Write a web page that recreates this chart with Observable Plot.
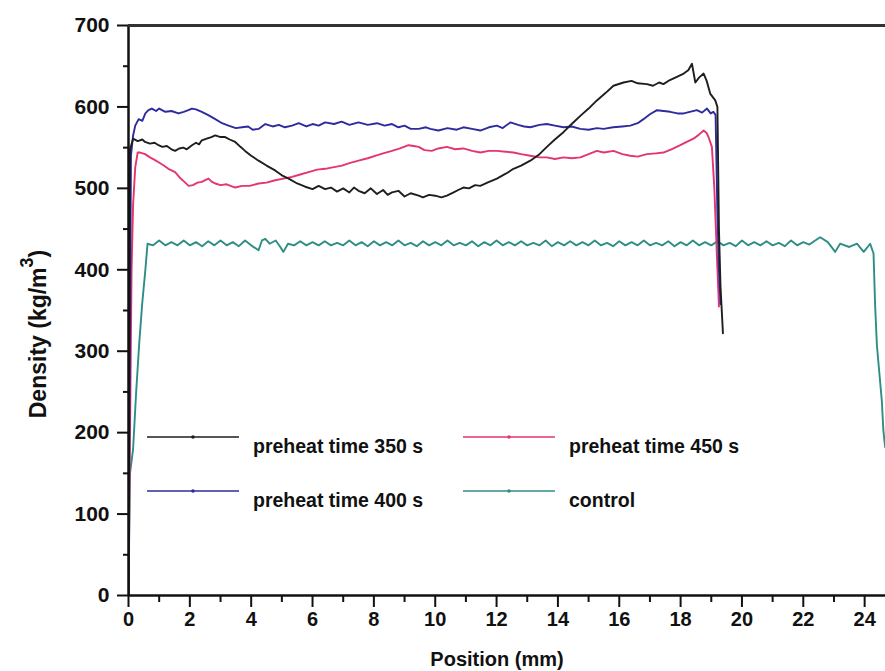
<!DOCTYPE html>
<html><head><meta charset="utf-8">
<script src="https://cdn.jsdelivr.net/npm/d3@7"></script>
<script src="https://cdn.jsdelivr.net/npm/@observablehq/plot@0.6"></script>
<style>body{margin:0;background:#fff;} svg{display:block;}</style>
</head><body><div id="chart"></div>
<script>
// ---- data (position in mm, density in kg/m3) ----
const x350 = [0,0.05,0.15,0.3,0.45,0.54,0.7,0.85,0.98,1.1,1.25,1.4,1.52,1.65,1.79,1.9,2.07,2.2,2.3,2.39,2.55,2.7,2.83,3.0,3.15,3.3,3.48,3.65,3.8,4.0,4.24,4.5,4.78,5.0,5.22,5.5,5.76,6.0,6.2,6.41,6.6,6.8,7.0,7.2,7.35,7.5,7.7,7.9,8.1,8.3,8.45,8.59,8.8,9.0,9.2,9.46,9.6,9.8,10.0,10.2,10.38,10.6,10.75,10.92,11.1,11.3,11.47,11.7,12.01,12.3,12.55,12.8,13.1,13.4,13.64,13.9,14.18,14.45,14.73,15.0,15.27,15.55,15.81,16.14,16.4,16.6,16.9,17.1,17.3,17.44,17.65,17.88,18.1,18.25,18.37,18.48,18.6,18.75,18.85,18.97,19.05,19.13,19.2,19.25,19.3,19.38];
const d350 = [0,548,561,558,560,557,555,556,553,551,552,548,546,549,550,548,553,556,554,559,561,563,565,563,563,560,557,551,546,540,534,528,522,516,512,506,502,499,503,499,501,496,500,495,501,497,494,500,493,498,492,495,497,490,494,491,489,492,491,489,491,495,498,501,500,504,503,507,512,518,524,528,534,542,551,560,569,579,589,598,608,617,626,630,632,629,628,626,630,628,633,637,641,645,653,630,636,641,632,616,612,608,600,450,380,322];

const x400 = [0,0.08,0.15,0.22,0.33,0.45,0.55,0.65,0.76,0.9,1.0,1.2,1.4,1.63,1.8,1.95,2.07,2.2,2.39,2.6,2.83,3.05,3.26,3.5,3.7,3.9,4.05,4.24,4.46,4.7,4.9,5.1,5.33,5.55,5.8,6.0,6.2,6.41,6.7,6.95,7.2,7.5,7.8,8.1,8.35,8.59,8.8,9.0,9.2,9.46,9.7,9.84,10.1,10.4,10.7,10.92,11.2,11.47,11.75,12.01,12.2,12.45,12.7,12.9,13.1,13.4,13.64,13.9,14.18,14.45,14.73,15.0,15.27,15.49,15.8,16.1,16.36,16.6,16.79,17.0,17.23,17.45,17.66,17.9,18.1,18.3,18.53,18.7,18.86,18.98,19.07,19.14,19.2,19.25,19.3];
const d400 = [0,540,565,577,585,583,592,596,598,595,598,594,595,592,594,596,598,597,594,590,585,580,577,574,575,576,572,573,579,576,578,575,577,580,576,579,577,581,579,582,578,581,578,580,577,579,575,577,573,573,575,573,571,574,572,575,573,571,575,577,574,581,578,576,575,578,579,577,575,576,573,572,574,573,575,576,577,580,585,591,596,595,594,592,592,594,596,593,598,592,594,590,470,400,358];

const x450 = [0,0.1,0.15,0.22,0.3,0.38,0.54,0.7,0.85,0.98,1.15,1.3,1.52,1.7,1.85,1.96,2.1,2.25,2.39,2.5,2.61,2.72,2.83,3.0,3.2,3.48,3.7,3.95,4.24,4.5,4.78,5.05,5.33,5.6,5.87,6.15,6.41,6.7,6.96,7.2,7.5,7.8,8.04,8.3,8.59,8.85,9.13,9.3,9.46,9.65,9.89,10.1,10.38,10.65,10.92,11.2,11.47,11.75,12.01,12.3,12.55,12.8,13.1,13.4,13.64,13.9,14.18,14.45,14.73,15.0,15.27,15.5,15.81,16.1,16.36,16.6,16.9,17.2,17.44,17.7,17.99,18.2,18.42,18.6,18.75,18.85,18.91,19.02,19.1,19.18,19.25];
const d450 = [0,400,480,526,544,544,542,538,535,532,528,524,520,512,507,503,504,507,508,510,512,508,506,504,505,501,503,503,506,507,510,512,514,517,520,523,524,526,528,531,534,537,540,543,546,549,553,552,551,547,546,549,551,548,549,546,544,546,546,545,544,542,540,538,538,536,538,537,538,542,546,544,546,542,540,539,542,543,544,548,553,557,561,566,571,568,563,551,500,420,355];

const xCtl = [0,0.05,0.15,0.25,0.35,0.45,0.55,0.62,0.8,1.0,1.2,1.4,1.6,1.8,2.0,2.2,2.4,2.6,2.8,3.0,3.2,3.4,3.6,3.8,4.0,4.24,4.35,4.46,4.6,4.8,4.95,5.05,5.2,5.4,5.6,5.8,6.0,6.2,6.4,6.6,6.8,7.0,7.2,7.4,7.6,7.8,8.0,8.2,8.4,8.6,8.8,9.0,9.2,9.4,9.6,9.8,10.0,10.2,10.4,10.6,10.8,11.0,11.2,11.4,11.6,11.8,12.0,12.2,12.4,12.6,12.8,13.0,13.2,13.4,13.6,13.8,14.0,14.2,14.4,14.6,14.8,15.0,15.2,15.4,15.6,15.8,16.0,16.2,16.4,16.6,16.8,17.0,17.2,17.4,17.6,17.8,18.0,18.2,18.4,18.6,18.8,19.0,19.2,19.4,19.6,19.8,20.0,20.2,20.4,20.6,20.8,21.0,21.2,21.4,21.6,21.8,22.0,22.2,22.35,22.55,22.8,23.04,23.2,23.5,23.75,23.97,24.18,24.29,24.34,24.4,24.56,24.61,24.67];
const dCtl = [5,150,180,250,310,360,400,432,430,436,430,434,430,436,430,434,429,435,430,436,430,434,429,436,430,424,436,438,432,436,428,422,432,430,435,430,434,430,435,430,433,430,436,430,434,429,435,430,434,430,436,430,433,429,435,430,434,430,436,430,433,430,435,429,434,430,436,430,434,430,435,430,433,430,436,429,434,430,435,430,434,430,436,430,433,429,435,430,434,430,436,430,433,430,435,429,434,430,436,430,434,430,435,430,433,429,436,430,434,430,435,430,433,429,436,430,434,431,435,440,434,422,432,428,432,422,432,420,358,307,239,203,182];

const seriesNames = ["preheat time 350 s", "preheat time 400 s", "preheat time 450 s", "control"];
const seriesColors = ["#1e1e1e", "#2c2c9e", "#e3356f", "#2e8e84"];
const xMajorTicks = [0,2,4,6,8,10,12,14,16,18,20,22,24];
const xMinorTicks = [1,3,5,7,9,11,13,15,17,19,21,23];
const yMajorTicks = [0,100,200,300,400,500,600,700];
const yMinorTicks = [50,150,250,350,450,550,650];

// build table from the arrays
const rows = [];
[[x350, d350], [x400, d400], [x450, d450], [xCtl, dCtl]].forEach(([xs, ds], i) =>
  xs.forEach((x, j) => rows.push({series: seriesNames[i], x, y: ds[j]})));
// draw order: control first, then 450, 400, 350 on top
const order = ["control", "preheat time 450 s", "preheat time 400 s", "preheat time 350 s"];

const plot = Plot.plot({
  width: 885, height: 671,
  marginLeft: 128, marginRight: 0, marginTop: 25, marginBottom: 76,
  style: {fontFamily: "'Liberation Sans', Arial, sans-serif", fontWeight: "bold", fontSize: "19px", color: "#111", background: "#fff", overflow: "visible"},
  x: {domain: [0, 24.68]},
  y: {domain: [0, 700]},
  color: {domain: seriesNames, range: seriesColors},
  marks: [
    Plot.axisX({ticks: xMinorTicks, tickSize: 7, tickFormat: () => "", strokeWidth: 2, label: null}),
    Plot.axisX({ticks: xMajorTicks, tickSize: 12, tickPadding: 4, strokeWidth: 2, label: null}),
    Plot.axisY({ticks: yMinorTicks, tickSize: 5, tickFormat: () => "", strokeWidth: 2, label: null}),
    Plot.axisY({ticks: yMajorTicks, tickSize: 11, tickPadding: 8, strokeWidth: 2, label: null}),
    ...order.map(name => Plot.line(rows.filter(d => d.series === name), {
      x: "x", y: "y", stroke: "series", strokeWidth: 1.9, clip: true
    })),
    Plot.ruleX([0], {stroke: "#111", strokeWidth: 2.5}),
    Plot.ruleY([0], {stroke: "#111", strokeWidth: 2.5}),
    Plot.ruleY([700], {stroke: "#333", strokeWidth: 3})
  ]
});
document.getElementById("chart").appendChild(plot);

const svg = d3.select(plot);
// tick label sizes
svg.selectAll("g[aria-label='y-axis tick label'] text").style("font-size", "21px");
svg.selectAll("g[aria-label='x-axis tick label'] text").style("font-size", "20px");
// axis titles
svg.append("text").attr("x", 497).attr("y", 666).attr("text-anchor", "middle")
  .style("font-size", "20px").style("font-weight", "bold").attr("fill", "#111").text("Position (mm)");
const yt = svg.append("text").attr("transform", "translate(46,334) rotate(-90)")
  .attr("text-anchor", "middle").style("font-size", "23px").style("font-weight", "bold").attr("fill", "#111");
yt.append("tspan").text("Density (kg/m");
yt.append("tspan").attr("dy", -13).style("font-size", "18px").text("3");
yt.append("tspan").attr("dy", 13).text(")");

// legend
const legendItems = [
  {name: seriesNames[0], lx: 147, ly: 437},
  {name: seriesNames[2], lx: 463, ly: 437},
  {name: seriesNames[1], lx: 147, ly: 491},
  {name: seriesNames[3], lx: 463, ly: 491}
];
const lg = svg.append("g");
legendItems.forEach(it => {
  const c = seriesColors[seriesNames.indexOf(it.name)];
  lg.append("line").attr("x1", it.lx).attr("x2", it.lx + 92).attr("y1", it.ly).attr("y2", it.ly)
    .attr("stroke", c).attr("stroke-width", 1.5);
  lg.append("circle").attr("cx", it.lx + 46).attr("cy", it.ly).attr("r", 1.8).attr("fill", c);
  lg.append("text").attr("x", it.lx + 106).attr("y", it.ly + 16).attr("text-anchor", "start")
    .style("font-size", "19.5px").style("font-weight", "bold").attr("fill", "#111").text(it.name);
});
</script>
</body></html>
